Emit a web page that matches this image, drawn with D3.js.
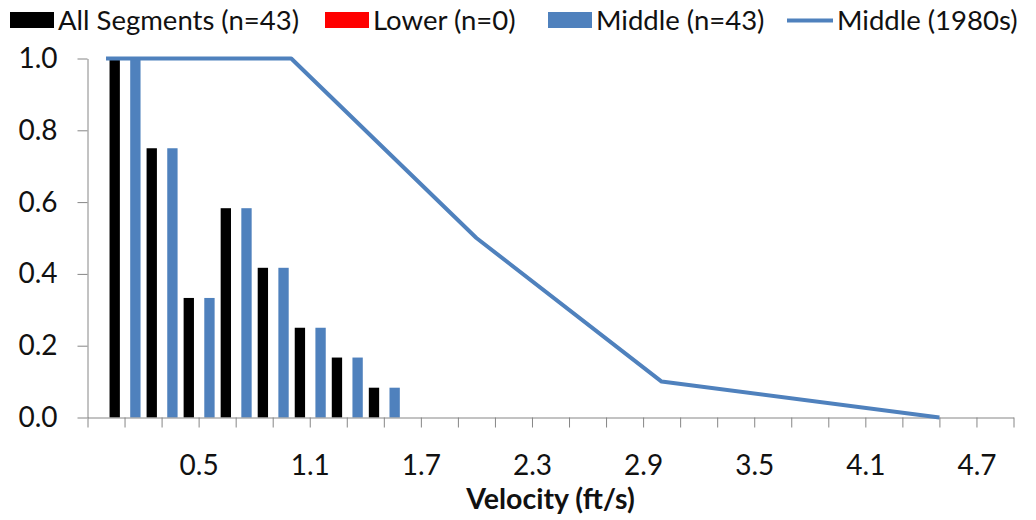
<!DOCTYPE html>
<html>
<head>
<meta charset="utf-8">
<script src="https://cdn.jsdelivr.net/npm/d3@7"></script>
<style>
  body { margin: 0; background: #fff; }
  svg { display: block; font-family: Lato, "Liberation Sans", sans-serif; }
</style>
</head>
<body>
<svg id="chart" width="1036" height="520"></svg>
<script>
// velocity bins (ft/s) and fraction of segments
var velocities = [0.1, 0.3, 0.5, 0.7, 0.9, 1.1, 1.3, 1.5];
var allSegments = [1.0, 0.75, 0.333, 0.583, 0.417, 0.25, 0.167, 0.083];
var lower = [0, 0, 0, 0, 0, 0, 0, 0];
var middle = [1.0, 0.75, 0.333, 0.583, 0.417, 0.25, 0.167, 0.083];

// 1980s curve
var middle1980sVel = [0.0, 1.0, 2.0, 3.0, 4.5];
var middle1980s = [1.0, 1.0, 0.5, 0.1, 0.0];

var yTicks = [0.0, 0.2, 0.4, 0.6, 0.8, 1.0];
var xTickLabels = ["0.5", "1.1", "1.7", "2.3", "2.9", "3.5", "4.1", "4.7"];

var seriesNames = ["All Segments (n=43)", "Lower (n=0)", "Middle (n=43)"];
var lineName = "Middle (1980s)";

var colors = ["#000000", "#ff0000", "#4f81bd"];
var lineColor = "#4f81bd";
var axisColor = "#868686";
var textColor = "#111";

var svg = d3.select("#chart");

var x = d3.scaleLinear().domain([-0.1, 4.9]).range([87.5, 1013.5]);
var y = d3.scaleLinear().domain([0, 1]).range([417.5, 58.5]);

// series offset inside a bin (pixels round the bin centre)
var sub = d3.scaleBand().domain(d3.range(3)).range([-15, 16]);

var series = [allSegments, lower, middle];

// bars
series.forEach(function(vals, s) {
  svg.append("g")
    .selectAll("rect")
    .data(vals)
    .enter()
    .append("rect")
    .attr("x", function(d, i) { return x(velocities[i]) + sub(s); })
    .attr("width", sub.bandwidth())
    .attr("y", function(d) { return y(d); })
    .attr("height", function(d) { return y(0) - y(d); })
    .attr("fill", colors[s]);
});

// axes
var xTicks = d3.range(-0.1, 4.95, 0.2);
var xAxis = d3.axisBottom(x)
  .tickValues(xTicks)
  .tickSize(10)
  .tickSizeOuter(0)
  .tickPadding(28)
  .tickFormat(function(d) {
    var s = d3.format(".1f")(d);
    return xTickLabels.indexOf(s) >= 0 ? s : "";
  });

var gx = svg.append("g")
  .attr("transform", "translate(0," + y(0) + ")")
  .call(xAxis);

var yAxis = d3.axisLeft(y)
  .tickValues(yTicks)
  .tickSize(10)
  .tickSizeOuter(0)
  .tickPadding(20)
  .tickFormat(d3.format(".1f"));

var gy = svg.append("g")
  .attr("transform", "translate(" + x(-0.1) + ",0)")
  .call(yAxis);

[gx, gy].forEach(function(g) {
  g.select(".domain").attr("stroke", axisColor);
  g.selectAll(".tick line").attr("stroke", axisColor);
  g.selectAll(".tick text")
    .attr("fill", textColor)
    .style("font-size", "28px")
    .style("font-family", "Lato, sans-serif");
});

// 1980s line
var line = d3.line()
  .x(function(d, i) { return x(middle1980sVel[i]); })
  .y(function(d) { return y(d); });

svg.append("path")
  .datum(middle1980s)
  .attr("d", line)
  .attr("fill", "none")
  .attr("stroke", lineColor)
  .attr("stroke-width", 4)
  .attr("stroke-linejoin", "round");

// axis title
svg.append("text")
  .attr("x", (x.range()[0] + x.range()[1]) / 2)
  .attr("y", 509)
  .attr("text-anchor", "middle")
  .style("font-size", "28.5px")
  .style("font-weight", "bold")
  .attr("fill", textColor)
  .text("Velocity (ft/s)");

// legend
var legendX = [10, 325, 548];
var legend = svg.append("g");
seriesNames.forEach(function(name, s) {
  legend.append("rect")
    .attr("x", legendX[s])
    .attr("y", 12)
    .attr("width", 44)
    .attr("height", 16)
    .attr("fill", colors[s]);
  legend.append("text")
    .attr("x", legendX[s] + 48)
    .attr("y", 30)
    .style("font-size", "27.5px")
    .attr("fill", textColor)
    .text(name);
});
legend.append("line")
  .attr("x1", 787).attr("x2", 833)
  .attr("y1", 20.5).attr("y2", 20.5)
  .attr("stroke", lineColor)
  .attr("stroke-width", 4);
legend.append("text")
  .attr("x", 837)
  .attr("y", 30)
  .style("font-size", "27.5px")
  .attr("fill", textColor)
  .text(lineName);
</script>
</body>
</html>
